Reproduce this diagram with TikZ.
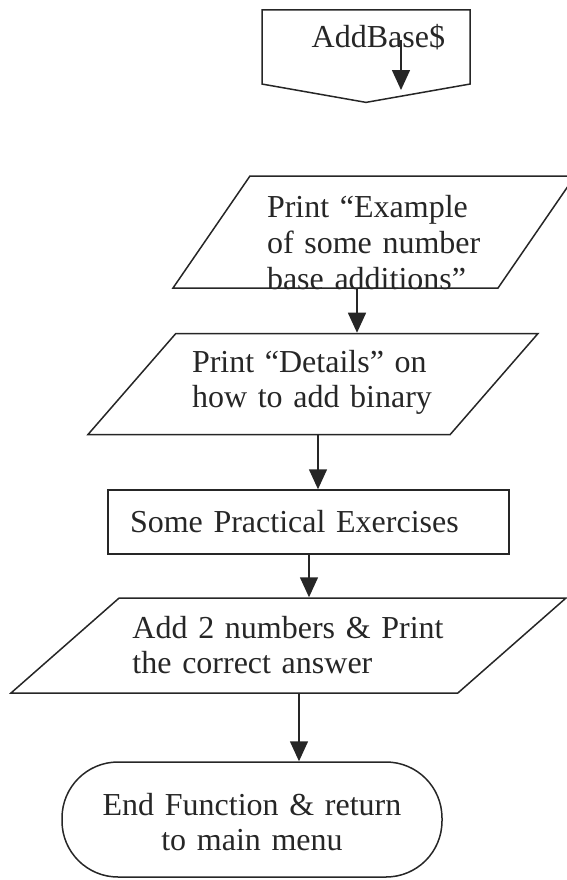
\documentclass[tikz,border=0pt]{standalone}
\usepackage{fontspec}
\setmainfont{Liberation Serif}
\usepackage{tikz}
\usetikzlibrary{arrows.meta,positioning,shapes.geometric,shapes.symbols}

\begin{document}
\begin{tikzpicture}[x=0.5pt,y=-0.5pt,line width=0.75pt,color=black!85,
  txt/.style={font=\fontsize{16}{17.5}\selectfont,text height=11pt,
    execute at begin node={\hyphenpenalty=10000\relax}},
  offp/.style={draw,txt,signal,signal to=south,signal from=nowhere,signal pointer angle=160,inner sep=0pt},
  io/.style={draw,txt,trapezium,trapezium stretches body,inner xsep=2pt,align=left},
  proc/.style={draw,txt,rectangle,inner ysep=0pt,align=left},
  term/.style={draw,txt,rectangle,rounded corners=28pt,align=center},
  ar/.style={-{Triangle[length=10pt,width=9pt]}}]
\useasboundingbox (0,0) rectangle (567,880);
% flowchart
\node[offp,minimum width=104pt,minimum height=44pt,text width=79pt,align=right,text depth=11pt] (start) at (366,47) {AddBase\$};
\node[io,trapezium left angle=55.5,trapezium right angle=124.5,minimum width=201pt,inner ysep=9.5pt,text width=107pt,text depth=26pt,font=\fontsize{16}{18}\selectfont] (pone) at (374,232) {Print~“Example\\of~some~number\\base~additions”};
\node[io,trapezium left angle=49,trapezium right angle=131,minimum width=225pt,inner ysep=8.5pt,text width=121pt,text depth=22.5pt] (ptwo) at (313,384) {Print~“Details”~on\\how~to~add~binary};
\node[proc,minimum width=200.5pt,minimum height=32pt,inner xsep=11pt,text width=178.5pt,text depth=1pt] (prac) at (308.5,522) {Some Practical Exercises};
\node[io,trapezium left angle=41.3,trapezium right angle=138.7,minimum width=277.5pt,inner ysep=9pt,text width=156pt,text depth=18.5pt] (pthree) at (288.5,645.5) {Add~2~numbers~\&~Print\\the~correct~answer};
\node[term,minimum width=190pt,minimum height=57.5pt,text width=170pt,text depth=15pt] (stop) at (252,819.5) {End Function \& return\\to main menu};
% connectors
\coordinate (tin) at (401,40);
\coordinate (tout) at (401,90);
\coordinate (xone) at (357,0);
\coordinate (xtwo) at (318,0);
\coordinate (xthree) at (309,0);
\coordinate (xfour) at (299,0);
\draw[ar] (tin) -- (tout);
\draw[ar] (xone |- pone.south) -- (xone |- ptwo.north);
\draw[ar] (xtwo |- ptwo.south) -- (xtwo |- prac.north);
\draw[ar] (xthree |- prac.south) -- (xthree |- pthree.north);
\draw[ar] (xfour |- pthree.south) -- (xfour |- stop.north);
\end{tikzpicture}
\end{document}
